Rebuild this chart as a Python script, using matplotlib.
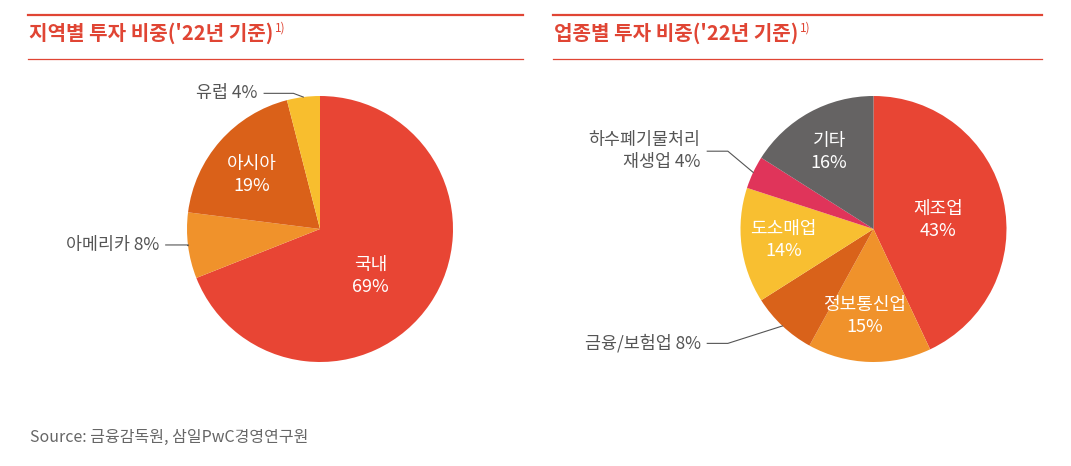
import numpy as np
import matplotlib
matplotlib.use('Agg')
import matplotlib.pyplot as plt

plt.rcParams['font.family'] = ['Noto Sans CJK KR', 'DejaVu Sans']

# 지역별 투자 비중
region_labels = ['국내', '아메리카', '아시아', '유럽']
region_values = [69, 8, 19, 4]
region_colors = ['#E84534', '#F0922B', '#DA6119', '#F8BE2E']

# 업종별 투자 비중
industry_labels = ['제조업', '정보통신업', '금융/보험업', '도소매업', '하수폐기물처리\n재생업', '기타']
industry_values = [43, 15, 8, 14, 4, 16]
industry_colors = ['#E84534', '#F0922B', '#D9621A', '#F8BF31', '#E0345A', '#656363']

titles = ["지역별 투자 비중('22년 기준)", "업종별 투자 비중('22년 기준)"]
source = 'Source: 금융감독원, 삼일PwC경영연구원'

W, H = 1071, 466
RED = '#E04534'
GRAY = '#555555'
R_PX = 133
L = 1.6

fig = plt.figure(figsize=(W / 100, H / 100), dpi=100)


def pie_axes(cx, cy):
    side = 2 * L * R_PX
    ax = fig.add_axes([(cx - side / 2) / W, (H - cy - side / 2) / H, side / W, side / H])
    ax.set_axis_off()
    return ax


def fix_limits(ax):
    ax.set_xlim(-L, L)
    ax.set_ylim(-L, L)
    ax.set_aspect('equal')


def mid_angle(w):
    return np.deg2rad((w.theta1 + w.theta2) / 2)


def inside_label(ax, w, text, r, shift=0):
    a = mid_angle(w) + np.deg2rad(shift)
    ax.text(r * np.cos(a), r * np.sin(a), text, color='white', fontsize=13,
            ha='center', va='center', linespacing=1.3)


def outside_label(ax, w, text, y, x_text, x_elbow):
    a = mid_angle(w)
    ex, ey = np.cos(a), np.sin(a)
    ax.plot([x_text + 0.05, x_elbow, ex], [y, y, ey], color=GRAY, lw=0.8)
    ax.text(x_text, y, text, color=GRAY, fontsize=12.5, ha='right', va='center',
            linespacing=1.25, multialignment='right')


def header(x0, x1, title):
    fig.add_artist(plt.Line2D([x0 / W, x1 / W], [1 - 15 / H, 1 - 15 / H], color=RED, lw=1.6))
    fig.add_artist(plt.Line2D([x0 / W, x1 / W], [1 - 59 / H, 1 - 59 / H], color=RED, lw=0.9))
    t = fig.text((x0 + 1) / W, 1 - 40 / H, title, color=RED, fontsize=14.5,
                 fontweight='bold', va='baseline')
    fig.canvas.draw()
    bb = t.get_window_extent()
    fig.text(bb.x1 / W + 0.001, 1 - 32 / H, '1)', color=RED, fontsize=8.5, va='baseline')


# left pie
ax1 = pie_axes(320, 229)
w1, _ = ax1.pie(region_values, colors=region_colors, startangle=90, counterclock=False,
                radius=1)
fix_limits(ax1)
inside_label(ax1, w1[0], f'{region_labels[0]}\n{region_values[0]}%', 0.52, shift=-9)
inside_label(ax1, w1[2], f'{region_labels[2]}\n{region_values[2]}%', 0.65, shift=3)
outside_label(ax1, w1[3], f'{region_labels[3]} {region_values[3]}%', 1.02, -0.47, -0.20)
outside_label(ax1, w1[1], f'{region_labels[1]} {region_values[1]}%', -0.12, -1.21, -0.99)

# right pie
ax2 = pie_axes(873.5, 229)
w2, _ = ax2.pie(industry_values, colors=industry_colors, startangle=90, counterclock=False,
                radius=1)
fix_limits(ax2)
inside_label(ax2, w2[0], f'{industry_labels[0]}\n{industry_values[0]}%', 0.49, shift=-5)
inside_label(ax2, w2[1], f'{industry_labels[1]}\n{industry_values[1]}%', 0.66, shift=-4)
inside_label(ax2, w2[3], f'{industry_labels[3]}\n{industry_values[3]}%', 0.68)
inside_label(ax2, w2[5], f'{industry_labels[5]}\n{industry_values[5]}%', 0.67, shift=1)
outside_label(ax2, w2[4], f'{industry_labels[4]} {industry_values[4]}%', 0.585, -1.30, -1.095)
outside_label(ax2, w2[2], f'{industry_labels[2]} {industry_values[2]}%', -0.86, -1.30, -1.095)

header(28, 523, titles[0])
header(553, 1042, titles[1])

fig.text(30 / W, 1 - 437 / H, source, color='#666666', fontsize=11.5, va='center')

fig.savefig('out.png', dpi=100)
